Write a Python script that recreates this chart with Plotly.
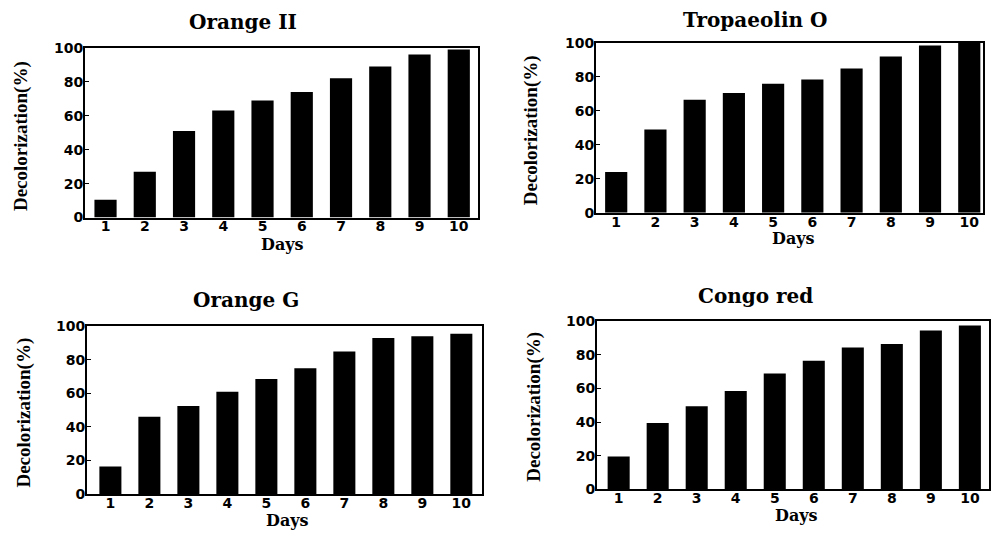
import plotly.graph_objects as go

days = [1, 2, 3, 4, 5, 6, 7, 8, 9, 10]
day_labels = ["1", "2", "3", "4", "5", "6", "7", "8", "9", "10"]
orange_ii = [10.5, 27, 51, 63, 69, 74, 82, 89, 96, 99]
tropaeolin_o = [24, 49, 66.5, 70.5, 76, 78.5, 85, 92, 98.5, 100]
orange_g = [16.5, 46, 52.5, 61, 68.5, 75, 85, 93, 94, 95.5]
congo_red = [19.5, 39.5, 49.5, 58.5, 69, 76.5, 84.5, 86.5, 94.5, 97.5]
titles = ["Orange II", "Tropaeolin O", "Orange G", "Congo red"]
y_ticks = [0, 20, 40, 60, 80, 100]
y_title = "Decolorization(%)"
x_title = "Days"

W, H = 991, 537
# panel boxes in pixels: (left, right, top, bottom)
boxes = [(85, 478, 41, 216), (596, 983, 36, 211), (87, 482, 328, 501), (597, 989, 323, 496)]
xranges = [(0.477, 10.49), (0.485, 10.35), (0.40, 10.53), (0.445, 10.49)]
title_pos = [(243, 14), (755, 12), (246, 301), (755, 297)]
ytitle_pos = [(21, 132), (531, 126), (24, 417), (534, 411)]
xtitle_pos = [(282, 244), (793, 238), (287, 528), (796, 523)]

series = [orange_ii, tropaeolin_o, orange_g, congo_red]

fig = go.Figure()
tick_font = dict(family="DejaVu Sans", size=14, color="black", weight="bold")
annotations = []
for i, vals in enumerate(series):
    n = "" if i == 0 else str(i + 1)
    fig.add_trace(go.Bar(x=days, y=vals, marker=dict(color="black", line=dict(width=0)),
                         xaxis="x" + n, yaxis="y" + n, showlegend=False))
    l, r, t, b = boxes[i]
    fig.update_layout(**{
        "xaxis" + n: dict(domain=[l / W, r / W], range=list(xranges[i]), anchor="y" + n,
                          tickvals=days, ticktext=day_labels, showline=True, linecolor="black",
                          linewidth=2, mirror=True, ticks="", showgrid=False, zeroline=False,
                          tickfont=tick_font, ticklabelstandoff=-5, fixedrange=True),
        "yaxis" + n: dict(domain=[1 - b / H, 1 - t / H], range=[0, 100], anchor="x" + n,
                          tickvals=y_ticks, showline=True, linecolor="black", linewidth=2,
                          mirror=True, ticks="inside", ticklen=4, tickcolor="black",
                          showgrid=False, zeroline=False, tickfont=tick_font,
                          ticklabelstandoff=-3, fixedrange=True),
    })
    tx, ty = title_pos[i]
    annotations.append(dict(text=titles[i], x=tx / W, y=1 - ty / H, xref="paper", yref="paper",
                            showarrow=False, xanchor="center", yanchor="middle",
                            font=dict(family="DejaVu Serif", size=20, color="black", weight="bold")))
    yx, yy = ytitle_pos[i]
    annotations.append(dict(text=y_title, x=yx / W, y=1 - yy / H, xref="paper", yref="paper",
                            showarrow=False, xanchor="center", yanchor="middle", textangle=-90,
                            font=dict(family="Liberation Serif", size=19, color="black",
                                      weight="bold")))
    dx, dy = xtitle_pos[i]
    annotations.append(dict(text=x_title, x=dx / W, y=1 - dy / H, xref="paper", yref="paper",
                            showarrow=False, xanchor="center", yanchor="middle",
                            font=dict(family="DejaVu Serif", size=16, color="black", weight="bold")))

fig.update_layout(width=W, height=H, margin=dict(l=0, r=0, t=0, b=0),
                  paper_bgcolor="white", plot_bgcolor="white", bargap=0.435,
                  annotations=annotations)
fig.write_html("out.html", config={"displayModeBar": False},
               post_script="document.documentElement.style.margin='0';"
                           "document.body.style.margin='0';"
                           "document.body.style.overflow='hidden';")
